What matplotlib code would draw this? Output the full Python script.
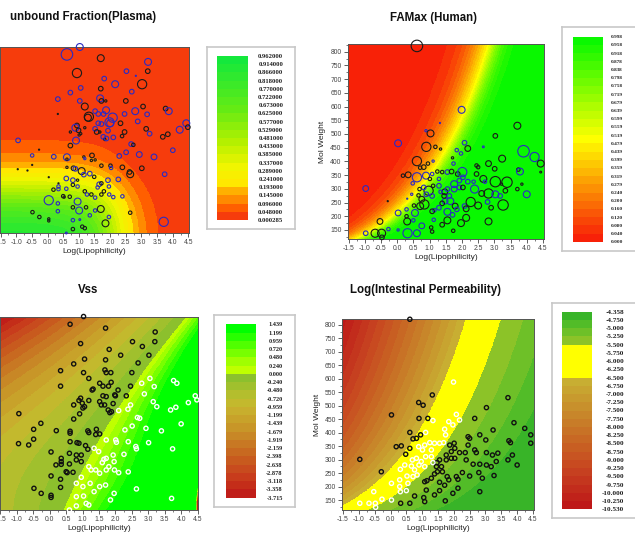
import numpy as np
import matplotlib
matplotlib.use('Agg')
import matplotlib.pyplot as plt
from matplotlib.colors import ListedColormap, BoundaryNorm, LinearSegmentedColormap
from matplotlib.ticker import MultipleLocator, FormatStrFormatter

plt.rcParams['font.family'] = ['Liberation Sans', 'DejaVu Sans']

# ---- compounds, left panels (y axis is cut off in the source, kept as 0..1)
lip_l = [1.03, 0.62, 1.70, 3.21, 2.52, 3.20, 0.94, 2.82, 1.81, 2.16, 3.02, 1.06, 1.70, 0.73, 2.69, 0.33,
         1.03, 1.68, 1.72, 1.86, 2.50, 1.19, 1.52, 1.87, 1.62, 1.32, 1.29, 0.33, 2.08, 1.79, 2.46, 1.98,
         2.00, 2.33, 1.72, 1.62, 1.52, 1.57, 1.67, 1.93, 0.94, 0.89, 0.99, 0.73, 1.19, 1.06, 1.01, 1.78,
         1.83, 1.88, 0.91, 0.73, -0.94, -0.27, -0.49, 0.20, 0.62, 0.62, 1.42, 1.52, 1.40, 1.16, 1.19, -0.49,
         -0.95, -0.64, 0.62, 0.83, 0.89, 1.09, 1.16, 0.04, 0.60, 0.81, 0.96, 0.35, 0.35, 0.81, 0.96, 0.60,
         0.19, 0.35, 0.50, 0.53, 0.71, 0.04, 0.33, 0.33, -0.48, -0.26, 0.04, 0.04,
         3.05, 3.77, 3.87, 2.80, 3.18, 2.88, 4.43, 4.48, 4.22, 3.15, 3.26, 3.84, 2.46, 2.38, 2.10, 3.68,
         2.67, 2.74, 4.00, 2.93, 3.40, 2.51, 2.29, 1.72, 2.01, 2.03, 2.39, 3.01, 2.62, 2.64, 3.74, 1.35,
         1.49, 1.93, 2.26, 1.65, 1.72, 1.60, 1.96, 1.19, 1.26, 1.40, 1.52, 1.72, 1.80, 1.97, 2.10, 2.39,
         0.96, 0.81, 1.01, 1.23, 1.52, 1.70, 1.35, 1.96, 2.64, 0.81, 1.03, 1.11, 1.19, 0.81, 1.85, 3.71, 0.60]
desc_l = [1.00, 0.96, 0.94, 0.92, 0.87, 0.87, 0.86, 0.845, 0.83, 0.80, 0.80, 0.78, 0.776, 0.755, 0.76, 0.72,
          0.71, 0.724, 0.71, 0.71, 0.71, 0.68, 0.655, 0.66, 0.64, 0.625, 0.62, 0.64, 0.62, 0.64, 0.64, 0.595,
          0.59, 0.59, 0.586, 0.59, 0.56, 0.543, 0.543, 0.55, 0.578, 0.566, 0.552, 0.543, 0.566, 0.534, 0.527, 0.517,
          0.503, 0.508, 0.497, 0.47, 0.498, 0.448, 0.417, 0.41, 0.407, 0.397, 0.417, 0.393, 0.39, 0.409, 0.40, 0.366,
          0.343, 0.336, 0.353, 0.348, 0.345, 0.333, 0.314, 0.30, 0.293, 0.284, 0.284, 0.267, 0.25, 0.259, 0.25, 0.238,
          0.233, 0.236, 0.198, 0.193, 0.195, 0.176, 0.159, 0.117, 0.112, 0.086, 0.076, 0.065,
          0.68, 0.669, 0.655, 0.655, 0.638, 0.60, 0.59, 0.569, 0.555, 0.56, 0.534, 0.531, 0.543, 0.521, 0.514, 0.517,
          0.478, 0.474, 0.445, 0.422, 0.409, 0.434, 0.414, 0.362, 0.362, 0.35, 0.353, 0.348, 0.328, 0.316, 0.316, 0.319,
          0.302, 0.284, 0.288, 0.262, 0.267, 0.245, 0.25, 0.224, 0.207, 0.207, 0.19, 0.207, 0.224, 0.207, 0.193, 0.197,
          0.169, 0.138, 0.121, 0.138, 0.121, 0.129, 0.095, 0.086, 0.109, 0.069, 0.072, 0.034, 0.026, 0.021, 0.052, 0.06, 0.0]
fu_size = [3, 5, 3, 3, 2, 2, 4, 0.5, 2, 3, 4, 2, 2, 2, 2, 2, 2, 3, 2, 1, 2, 3, 2, 3, 2, 4, 3, 0.5, 4, 2, 2, 4,
           3, 2, 2, 2, 2, 2, 1, 2, 2, 3, 2, 1, 1, 1, 1, 2, 1, 2, 3, 2, 2, 0.5, 1.5, 2, 3, 1, 2, 1, 1, 1, 1, 0.5,
           0.5, 0.5, 1, 2, 2, 3, 2, 0.5, 2, 2, 1, 0.5, 1.5, 1.5, 1.5, 1.5, 1.5, 1.5, 1.5, 1, 1.5, 4, 1.5, 1.5, 1.5, 1.5, 1, 1,
           2, 2, 3, 3, 2, 2, 3, 2, 3, 2, 2, 2, 2, 1.5, 2, 2, 2, 1.5, 2, 2.5, 2.5, 2, 2, 1.5, 1.5, 1.5, 2, 2, 2, 3, 2, 2,
           1.5, 2, 2, 2, 1.5, 1.5, 1.5, 1.5, 1.5, 1.5, 1.5, 1.5, 1.5, 1.5, 1.5, 1.5, 3, 1.5, 3, 1.5, 1.5, 3, 1.5, 1.5, 1.5, 1.5,
           0.8, 1.5, 1.5, 1.5, 3, 4, 0.8]
fu_blue = [1, 1, 0, 1, 1, 0, 0, 1, 1, 1, 0, 1, 0, 1, 1, 1, 1, 1, 0, 0, 0, 0, 1, 1, 1, 0, 0, 0, 1, 1, 1, 1,
           1, 0, 1, 1, 1, 0, 0, 1, 0, 1, 0, 0, 0, 0, 0, 1, 0, 1, 1, 0, 1, 0, 1, 1, 1, 0, 0, 0, 0, 0, 1, 0,
           0, 0, 0, 0, 1, 0, 1, 0, 1, 1, 0, 0, 1, 0, 1, 1, 0, 1, 0, 0, 0, 1, 1, 1, 0, 0, 0, 0,
           0, 0, 1, 1, 1, 1, 1, 0, 1, 0, 1, 0, 0, 0, 1, 0, 1, 0, 1, 1, 1, 1, 1, 0, 0, 1, 0, 0, 0, 0, 1, 1,
           0, 1, 1, 1, 0, 1, 1, 0, 1, 0, 1, 0, 0, 1, 1, 1, 1, 0, 1, 0, 1, 0, 1, 1, 0, 1, 1, 0, 0, 0, 0, 1, 1]
vss_high = [0] * 92 + [1] * 65

# ---- compounds, right panels
lip_r = [0.61, 1.99, 1.32, 3.71, 0.89, 1.03, 3.03, 0.03, 0.90, 1.18, 1.34, 2.08, 2.18, 1.84, 1.97, 2.66,
         3.90, 4.24, 4.43, 4.43, 0.61, 0.95, 1.11, 0.82, 0.71, 1.71, 1.74, 2.45, 2.50, 2.82, 3.01, 3.24,
         3.74, 3.79, 0.18, 0.34, 0.61, 0.48, 0.89, 1.08, 1.01, 1.24, 1.39, 1.55, 1.68, 1.29, 1.87, 2.01,
         2.66, 3.03, 3.22, 3.39, -0.97, -0.29, 0.31, 0.66, 0.76, 0.84, 0.71, 0.97, 1.08, 1.47, 1.55, 1.76,
         1.92, 1.76, 1.92, 2.03, 2.18, 2.36, 2.39, 2.61, 2.82, 3.03, 3.18, 3.71, 3.85, 4.00, 1.48, 1.64,
         1.39, 1.29, 1.15, 1.79, 2.08, 2.27, 2.50, 2.79, 1.08, 1.55, 1.84, 2.13, 2.13, 1.71, 1.55, 1.39,
         1.97, 2.82, 1.13, 1.05, 0.76, 1.08, 1.73, 0.61, 0.32, -0.97, -0.68, -0.48, -0.47, -0.27, 0.03, -0.53,
         0.29, 0.31, 0.55, 0.03, 0.52, 0.29, 0.50, 0.90, 0.82, 0.69, 1.29, 1.34, 1.11, 0.45, 1.45, 1.61,
         2.03, 2.45, 2.71, 3.34, 3.27, 2.90]
mw_r = [821, 588, 540, 530, 512, 502, 493, 466, 453, 453, 445, 468, 447, 441, 429, 453,
        437, 416, 392, 361, 401, 392, 401, 379, 377, 413, 392, 385, 379, 392, 373, 410,
        370, 363, 348, 351, 342, 320, 348, 354, 336, 363, 361, 361, 363, 336, 354, 361,
        336, 326, 317, 324, 301, 255, 264, 276, 262, 243, 237, 293, 274, 289, 299, 317,
        330, 299, 305, 305, 326, 326, 299, 283, 283, 280, 274, 299, 317, 280, 255, 255,
        247, 231, 222, 237, 237, 252, 239, 252, 218, 216, 225, 227, 194, 205, 185, 169,
        175, 181, 187, 159, 165, 144, 147, 138, 138, 138, 138, 138, 123, 153, 150, 181,
        200, 181, 212, 212, 239, 225, 185, 280, 305, 299, 311, 289, 311, 280, 274, 274,
        342, 354, 326, 293, 241, 231]
fa_size = [5, 3, 0.5, 3, 1, 3, 2, 3, 4, 1.5, 1, 2, 2.5, 1.5, 1.5, 0.8,
           5, 4, 3, 0.8, 4, 1.5, 1, 2, 1.5, 1, 1.5, 1.5, 1.5, 2.5, 2, 3,
           1.5, 3, 1.5, 2.5, 4, 1.5, 3, 1.5, 1.5, 1.5, 1.5, 2, 2, 1.5, 2, 4,
           3, 4.5, 1, 4.5, 2.5, 0.5, 0.5, 1.5, 2.5, 4, 3, 4, 2, 2.5, 2, 3,
           2, 2.5, 2, 2, 2, 1.5, 3.5, 2.5, 4, 3, 2, 1.5, 1, 3, 2.5, 3,
           2, 2, 1.5, 2.5, 2, 4, 3, 2, 2, 3, 2, 2.5, 3, 2, 3, 2,
           3, 3, 1.5, 1.5, 2.5, 1.5, 1.5, 3, 4, 2, 3.5, 3.5, 2, 1.5, 1, 2.5,
           1.5, 3, 3, 2.5, 1.5, 1.5, 1.5, 2, 2, 1.5, 2, 1.5, 1.5, 1, 2, 2,
           2, 2, 1.5, 2, 4.5, 2]
fa_blue = [0, 1, 1, 0, 1, 0, 0, 1, 0, 0, 0, 1, 0, 1, 1, 1,
           1, 1, 0, 0, 0, 0, 1, 0, 0, 0, 1, 0, 0, 0, 0, 0,
           0, 1, 0, 0, 1, 1, 1, 1, 0, 0, 0, 1, 0, 1, 0, 1,
           0, 0, 0, 0, 1, 0, 1, 0, 0, 0, 0, 0, 1, 0, 1, 1,
           1, 1, 1, 0, 1, 1, 1, 0, 0, 1, 1, 0, 0, 1, 1, 1,
           0, 1, 1, 0, 1, 0, 0, 1, 0, 1, 1, 0, 0, 1, 0, 0,
           0, 0, 1, 0, 1, 0, 0, 1, 1, 1, 0, 0, 0, 1, 1, 0,
           0, 0, 1, 1, 0, 1, 1, 1, 1, 0, 1, 1, 0, 1, 0, 1,
           1, 0, 1, 0, 0, 0]
perm_band = [0, 1, 0, 0, 0, 0, 0, 0, 0, 0, 1, 1, 1, 1, 1, 0,
             0, 0, 0, 0, 0, 0, 1, 0, 0, 1, 1, 0, 0, 0, 0, 0,
             0, 0, 0, 0, 0, 0, 1, 1, 1, 1, 1, 1, 1, 1, 0, 0,
             0, 0, 0, 0, 0, 0, 1, 1, 1, 1, 1, 1, 1, 0, 0, 0,
             0, 0, 0, 0, 0, 0, 0, 0, 0, 0, 0, 0, 0, 0, 0, 0,
             0, 0, 0, 0, 0, 0, 0, 0, 0, 0, 0, 0, 0, 0, 0, 0,
             0, 0, 0, 0, 0, 0, 0, 0, 0, 1, 1, 1, 1, 1, 1, 1,
             1, 1, 1, 1, 1, 1, 1, 1, 1, 1, 1, 1, 1, 1, 0, 0,
             0, 0, 0, 0, 0, 0]

# ---- legend levels
fu_labels = ['0.000285', '0.048000', '0.096000', '0.145000', '0.193000', '0.241000', '0.289000', '0.337000',
             '0.385000', '0.433000', '0.481000', '0.529000', '0.577000', '0.625000', '0.673000', '0.722000',
             '0.770000', '0.818000', '0.866000', '0.914000', '0.962000']
fa_labels = ['0.000', '0.040', '0.080', '0.120', '0.160', '0.200', '0.240', '0.279', '0.319', '0.359',
             '0.399', '0.439', '0.479', '0.519', '0.559', '0.599', '0.639', '0.679', '0.719', '0.758',
             '0.798', '0.838', '0.878', '0.918', '0.958', '0.998']
vss_labels = ['-3.715', '-3.358', '-3.118', '-2.878', '-2.638', '-2.398', '-2.159', '-1.919', '-1.679',
              '-1.439', '-1.199', '-0.959', '-0.720', '-0.480', '-0.240', '0.000', '0.240', '0.480',
              '0.720', '0.959', '1.199', '1.439']
perm_labels = ['-10.530', '-10.250', '-10.000', '-9.750', '-9.500', '-9.250', '-9.000', '-8.750', '-8.500',
               '-8.250', '-8.000', '-7.750', '-7.500', '-7.250', '-7.000', '-6.750', '-6.500', '-6.250',
               '-6.000', '-5.750', '-5.500', '-5.250', '-5.000', '-4.750', '-4.358']

fu_colors = ['#f63c0c', '#ff5f00', '#ff8a00', '#ffb000']
anch_i = [4, 6, 9, 13, 19]
anch_c = np.array([(255, 232, 0), (240, 245, 0), (180, 240, 0), (100, 235, 20), (20, 232, 60)]) / 255
for i in range(4, 20):
    fu_colors.append(tuple(np.interp(i, anch_i, anch_c[:, k]) for k in range(3)))
ryg = LinearSegmentedColormap.from_list('ryg', ['#f81808', '#ffff00', '#00f800'])
fa_colors = [ryg((i + 0.5) / 25) for i in range(25)]
vss_colors = ['#c01e19', '#c42d19', '#c83c1c', '#c84b1e', '#c85a1e', '#c86920', '#c87823', '#c88726',
              '#c89628', '#c8a22a', '#c8ae2d', '#c3b92d', '#b4be2d', '#a0c02d', '#8cc02d', '#bfff00',
              '#a0ff00', '#78ff00', '#50ff00', '#28ff00', '#00ff00']
perm_colors = ['#be1818', '#c0221a', '#c22c1c', '#c4361e', '#c64020', '#c84a20', '#c85422', '#c85e22',
               '#c86824', '#c87226', '#c87c28', '#c8862a', '#c8902c', '#c89a2e', '#c8a430', '#c8ae32',
               '#ffff00', '#ffff00', '#ffff00', '#ffff00', '#8cc328', '#6ec028', '#52bc28', '#38b428']

XLIM = (-1.52, 4.52)
W, H = 635, 533
fig = plt.figure(figsize=(W / 100, H / 100), dpi=100)


def rect(l, t, r, b):
    return [l / W, 1 - b / H, (r - l) / W, (b - t) / H]


# model surfaces behind the points
def fu_field(x, y):
    a = 1 / (1 + np.exp((x - 2.1) / 0.5))
    b = 1 / (1 + np.exp((y - 0.22) / 0.095))
    return 0.962 * a * b


def fa_field(x, mw):
    d = x - (-11.3 + 2.1 * np.log(mw))
    w = np.where(d < 0, 0.4, 0.25)
    return 1 / (1 + np.exp(-d / w))


def vss_field(x, y):
    u = (x - XLIM[0]) / (XLIM[1] - XLIM[0])
    u0 = 0.32 + 0.42 * y + 0.20 * y ** 2
    b = (0.6 + 3.1 * y ** 2.2) / u0
    v = np.where(u < u0, b * (u - u0), 3.0 * b * (u - u0))
    return v - 12 * np.exp(-((1 - u) / 0.012) ** 2 - (y / 0.09) ** 2)


def perm_field(x, mw):
    d = x - (-11.17 + 2.1 * np.log(mw))
    return np.where(np.abs(d) <= 0.555, -6.0 + 0.9 * d,
                    np.where(d < 0, -6.5 + (d + 0.555), -5.5 + 0.35 * (d - 0.555)))


def panel(pos, field, ylim, labels, colors, ylabel=None):
    ax = fig.add_axes(rect(*pos))
    lev = [float(s) for s in labels]
    gx = np.linspace(XLIM[0], XLIM[1], 500)
    gy = np.linspace(ylim[0], ylim[1], 500)
    X, Y = np.meshgrid(gx, gy)
    Z = np.clip(field(X, Y), lev[0] + 1e-6, lev[-1] - 1e-6)
    ax.imshow(Z, origin='lower', extent=[XLIM[0], XLIM[1], ylim[0], ylim[1]], aspect='auto',
              cmap=ListedColormap(colors), norm=BoundaryNorm(lev, len(colors)), interpolation='nearest')
    ax.set_xlim(XLIM)
    ax.set_ylim(ylim)
    ax.xaxis.set_major_locator(MultipleLocator(0.5))
    ax.xaxis.set_minor_locator(MultipleLocator(0.25))
    ax.xaxis.set_major_formatter(FormatStrFormatter('%.1f'))
    ax.tick_params(which='major', direction='out', length=3, width=0.6, labelsize=4.9,
                   colors='#444444', pad=1.5)
    ax.tick_params(which='minor', direction='out', length=1.6, width=0.5, colors='#444444')
    for s in ax.spines.values():
        s.set_color('#555555')
        s.set_linewidth(0.7)
    ax.set_xlabel('Log(Lipophilicity)', fontsize=6, labelpad=1, color='#222222')
    if ylabel:
        ax.yaxis.set_major_locator(MultipleLocator(50))
        ax.yaxis.set_minor_locator(MultipleLocator(25))
        ax.set_ylabel(ylabel, fontsize=6, labelpad=3, color='#222222')
    else:
        ax.yaxis.set_major_locator(MultipleLocator(0.1))
        ax.tick_params(axis='y', labelleft=False)
    return ax


def legend_box(box, bar, colors, labels, fsize, text_right):
    bx = fig.add_axes(rect(*box))
    bx.set_xticks([])
    bx.set_yticks([])
    for s in bx.spines.values():
        s.set_color('#c8c8c8')
        s.set_linewidth(1.2)
    cx = fig.add_axes(rect(*bar))
    n = len(colors)
    cx.pcolormesh([0, 1], np.arange(n + 1), np.arange(n).reshape(-1, 1),
                  cmap=ListedColormap(colors), vmin=-0.5, vmax=n - 0.5, shading='flat')
    cx.set_xlim(0, 1)
    cx.set_ylim(0, n)
    cx.set_xticks([])
    cx.set_yticks(np.arange(n + 1))
    cx.yaxis.tick_right()
    cx.set_yticklabels(labels, ha='right', fontfamily='Liberation Serif', fontweight='bold',
                       fontsize=fsize, color='#222222')
    cx.tick_params(axis='y', length=0, pad=(text_right - bar[2]) * 0.72)
    for s in cx.spines.values():
        s.set_visible(False)


def ring_sizes(v):
    return (1.66 * np.asarray(v)) ** 2


lip_l = np.array(lip_l)
desc_l = np.array(desc_l)
lip_r = np.array(lip_r)
mw_r = np.array(mw_r)
fu_blue = np.array(fu_blue, bool)
fa_blue = np.array(fa_blue, bool)
vss_high = np.array(vss_high, bool)
perm_band = np.array(perm_band, bool)
BLUE, BLACK = '#2a2ac4', '#1a1a1a'

# unbound fraction
ax1 = panel((-0.1, 47, 189.1, 233), fu_field, (0, 1), fu_labels, fu_colors)
ax1.scatter(lip_l, desc_l, s=ring_sizes(fu_size), facecolors='none',
            edgecolors=np.where(fu_blue, BLUE, BLACK), linewidths=0.8, clip_on=False, zorder=3)
legend_box((206.7, 46.7, 295, 229.3), (217.3, 56, 247.7, 220), fu_colors, fu_labels, 4.8, 283.3)

# FAMax
ax2 = panel((347.9, 44, 543.6, 239), fa_field, (117, 828), fa_labels, fa_colors, 'Mol Weight')
ax2.scatter(lip_r, mw_r, s=ring_sizes(fa_size), facecolors='none',
            edgecolors=np.where(fa_blue, BLUE, BLACK), linewidths=0.8, clip_on=False, zorder=3)
legend_box((561.7, 27.3, 680, 250.7), (572.7, 36.7, 602.7, 241.7), fa_colors, fa_labels, 3.8, 622.7)

# Vss
ax3 = panel((-0.2, 316.5, 198.2, 510), vss_field, (0, 1), vss_labels, vss_colors)
ax3.scatter(lip_l, desc_l, s=9, facecolors='none',
            edgecolors=np.where(vss_high, 'white', '#111111'), linewidths=1.0, clip_on=False, zorder=3)
legend_box((214.3, 315, 295, 506.7), (225.7, 324.3, 255.7, 497.7), vss_colors, vss_labels, 4.5, 282.7)

# intestinal permeability
ax4 = panel((342.4, 319, 533.6, 510), perm_field, (113, 822), perm_labels, perm_colors, 'Mol Weight')
ax4.scatter(lip_r, mw_r, s=9, facecolors='none',
            edgecolors=np.where(perm_band, 'white', '#111111'), linewidths=1.0, clip_on=False, zorder=3)
legend_box((551.7, 303.3, 680, 518.3), (562.3, 311.7, 592, 509.3), perm_colors, perm_labels, 5.2, 624)

tkw = dict(fontsize=8.3, fontweight='bold', color='#111111', ha='center', va='center')
fig.text(83 / W, 1 - 17 / H, 'unbound Fraction(Plasma)', **tkw)
fig.text(433 / W, 1 - 18 / H, 'FAMax (Human)', **tkw)
fig.text(87.7 / W, 1 - 290 / H, 'Vss', **tkw)
fig.text(425.8 / W, 1 - 290 / H, 'Log(Intestinal Permeability)', **tkw)

fig.savefig('out.png', dpi=100, facecolor='white')
